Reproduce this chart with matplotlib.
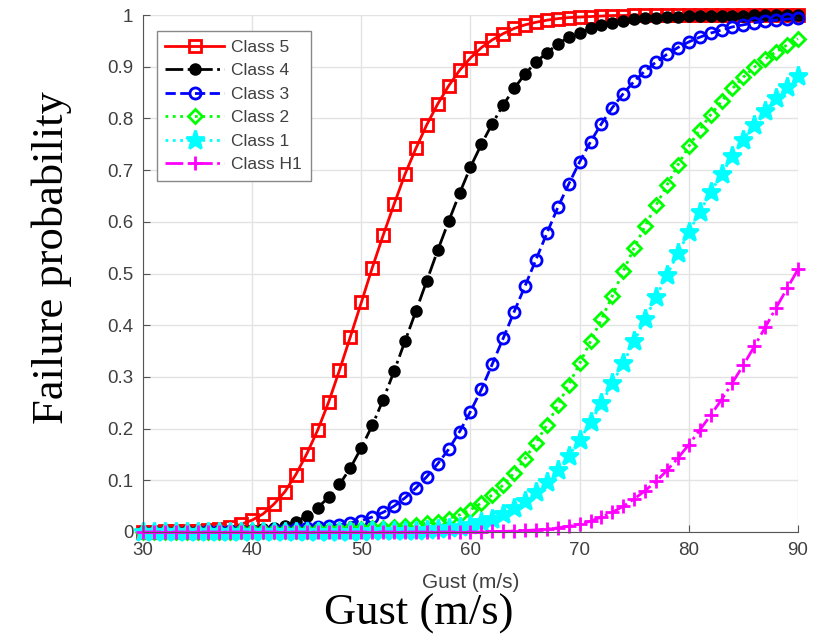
import numpy as np
import matplotlib
matplotlib.use("Agg")
import matplotlib.pyplot as plt

# gust speed (m/s), one point every 1 m/s
gust = list(range(30, 91))

# failure probability, x = 30 ... 90
class5 = [0.000, 0.000, 0.001, 0.001, 0.001, 0.002, 0.003, 0.006, 0.009, 0.015,
          0.023, 0.035, 0.054, 0.078, 0.111, 0.151, 0.197, 0.251, 0.313, 0.378,
          0.444, 0.511, 0.574, 0.634, 0.692, 0.742, 0.788, 0.828, 0.863, 0.893,
          0.917, 0.937, 0.952, 0.964, 0.974, 0.981, 0.986, 0.990, 0.993, 0.995,
          0.996, 0.997, 0.998, 0.999, 0.999, 1.000, 1.000, 1.000, 1.000, 1.000,
          1.000, 1.000, 1.000, 1.000, 1.000, 1.000, 1.000, 1.000, 1.000, 1.000,
          1.000]
class4 = [0.000, 0.000, 0.000, 0.000, 0.001, 0.001, 0.001, 0.002, 0.002, 0.003,
          0.004, 0.006, 0.008, 0.012, 0.020, 0.031, 0.047, 0.067, 0.092, 0.124,
          0.163, 0.206, 0.256, 0.311, 0.369, 0.427, 0.486, 0.545, 0.601, 0.655,
          0.706, 0.750, 0.790, 0.826, 0.858, 0.886, 0.909, 0.927, 0.944, 0.957,
          0.966, 0.974, 0.980, 0.985, 0.989, 0.992, 0.994, 0.995, 0.996, 0.997,
          0.998, 0.998, 0.999, 0.999, 0.999, 0.999, 1.000, 1.000, 1.000, 1.000,
          1.000]
class3 = [0.000, 0.000, 0.000, 0.000, 0.000, 0.000, 0.001, 0.001, 0.001, 0.001,
          0.002, 0.002, 0.003, 0.004, 0.005, 0.007, 0.009, 0.011, 0.014, 0.018,
          0.022, 0.029, 0.038, 0.050, 0.066, 0.085, 0.107, 0.132, 0.160, 0.194,
          0.233, 0.276, 0.325, 0.375, 0.426, 0.476, 0.527, 0.578, 0.628, 0.673,
          0.716, 0.755, 0.790, 0.821, 0.848, 0.872, 0.892, 0.909, 0.924, 0.937,
          0.948, 0.957, 0.965, 0.971, 0.977, 0.981, 0.985, 0.988, 0.990, 0.992,
          0.994]
class2 = [0.000, 0.000, 0.000, 0.000, 0.000, 0.000, 0.000, 0.000, 0.000, 0.001,
          0.001, 0.001, 0.001, 0.001, 0.002, 0.002, 0.003, 0.003, 0.004, 0.005,
          0.006, 0.007, 0.008, 0.010, 0.012, 0.014, 0.017, 0.020, 0.026, 0.033,
          0.043, 0.056, 0.072, 0.091, 0.114, 0.142, 0.173, 0.207, 0.245, 0.285,
          0.326, 0.369, 0.412, 0.457, 0.505, 0.550, 0.592, 0.632, 0.671, 0.710,
          0.746, 0.778, 0.807, 0.833, 0.858, 0.880, 0.899, 0.915, 0.929, 0.942,
          0.954]
class1 = [0.000, 0.000, 0.000, 0.000, 0.000, 0.000, 0.000, 0.000, 0.000, 0.000,
          0.000, 0.000, 0.000, 0.000, 0.000, 0.000, 0.000, 0.000, 0.000, 0.000,
          0.000, 0.001, 0.001, 0.001, 0.002, 0.002, 0.003, 0.005, 0.007, 0.010,
          0.014, 0.019, 0.026, 0.035, 0.046, 0.060, 0.077, 0.097, 0.120, 0.147,
          0.178, 0.213, 0.249, 0.288, 0.327, 0.369, 0.412, 0.455, 0.497, 0.539,
          0.580, 0.619, 0.657, 0.693, 0.727, 0.759, 0.788, 0.815, 0.839, 0.861,
          0.882]
classH1 = [0.000, 0.000, 0.000, 0.000, 0.000, 0.000, 0.000, 0.000, 0.000, 0.000,
           0.000, 0.000, 0.000, 0.000, 0.000, 0.000, 0.000, 0.000, 0.000, 0.000,
           0.000, 0.000, 0.000, 0.000, 0.000, 0.000, 0.000, 0.000, 0.000, 0.000,
           0.000, 0.000, 0.001, 0.001, 0.002, 0.003, 0.004, 0.006, 0.008, 0.011,
           0.015, 0.021, 0.029, 0.038, 0.050, 0.064, 0.080, 0.098, 0.119, 0.143,
           0.169, 0.197, 0.226, 0.256, 0.289, 0.323, 0.359, 0.396, 0.434, 0.471,
           0.508]

labels = ['Class 5', 'Class 4', 'Class 3', 'Class 2', 'Class 1', 'Class H1']
x_ticks = [30, 40, 50, 60, 70, 80, 90]
y_ticks = [0, 0.1, 0.2, 0.3, 0.4, 0.5, 0.6, 0.7, 0.8, 0.9, 1]
y_ticklabels = ['0', '0.1', '0.2', '0.3', '0.4', '0.5', '0.6', '0.7', '0.8', '0.9', '1']

grey = '#404040'
plt.rcParams['font.family'] = ['Liberation Sans', 'DejaVu Sans']

fig = plt.figure(figsize=(8.28, 6.39), dpi=100)
ax = fig.add_axes([143 / 828, 1 - 532 / 639, 655 / 828, 517 / 639])

# (data, color, linestyle, marker, size, face)
styles = [
    (class5, 'red', '-', 's', 8, 'none'),
    (class4, 'black', '-.', 'o', 7, 'black'),
    (class3, 'blue', '--', 'o', 8, 'none'),
    (class2, '#00ff00', ':', 'D', 7, 'none'),
    (class1, 'cyan', ':', '*', 14, 'cyan'),
    (classH1, 'magenta', '-.', '+', 10, 'magenta'),
]
for (vals, col, ls, mk, ms, mfc), lab in zip(styles, labels):
    ax.plot(gust, vals, color=col, linestyle=ls, linewidth=2, marker=mk,
            markersize=ms, markerfacecolor=mfc, markeredgecolor=col,
            markeredgewidth=2, label=lab, clip_on=False)

ax.set_xlim(30, 90)
ax.set_ylim(0, 1)
ax.set_xticks(x_ticks)
ax.set_yticks(y_ticks)
ax.set_yticklabels(y_ticklabels)
ax.grid(True, color='#e3e3e3', linewidth=1)
ax.set_axisbelow(True)
for s in ['top', 'right']:
    ax.spines[s].set_visible(False)
for s in ['left', 'bottom']:
    ax.spines[s].set_color('#555555')
ax.tick_params(direction='in', length=5, colors='#555555', labelcolor=grey,
               labelsize=13.5, pad=7)

ax.set_xlabel('Gust (m/s)', fontsize=15, color=grey, labelpad=10)

leg = ax.legend(loc='upper left', bbox_to_anchor=(0.021, 0.969), borderaxespad=0,
                fontsize=12.5, handlelength=3.4, labelspacing=0.48, fancybox=False,
                framealpha=1, edgecolor='#888888', borderpad=0.5, handletextpad=0.4)
for t in leg.get_texts():
    t.set_color(grey)

# large serif labels pasted over the figure
fig.text(419 / 828, 1 - 614 / 639, 'Gust (m/s)', family='Liberation Serif',
         fontsize=32, ha='center', va='center')
fig.text(52 / 828, 1 - 258 / 639, 'Failure probability', family='Liberation Serif',
         fontsize=32, ha='center', va='center', rotation=90)

fig.savefig('out.png', dpi=100)
